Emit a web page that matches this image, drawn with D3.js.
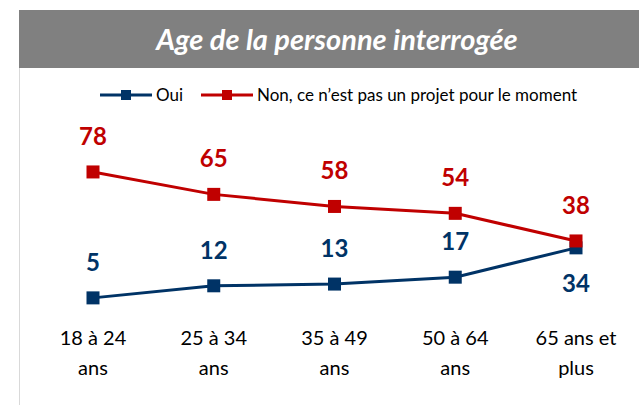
<!DOCTYPE html>
<html>
<head>
<meta charset="utf-8">
<script src="https://cdn.jsdelivr.net/npm/d3@7"></script>
<style>
  body { margin: 0; background: #fff; }
  svg { display: block; font-family: Lato, "Open Sans", sans-serif; }
</style>
</head>
<body>
<svg id="chart"></svg>
<script>
const categories = [['18 à 24', 'ans'], ['25 à 34', 'ans'], ['35 à 49', 'ans'], ['50 à 64', 'ans'], ['65 ans et', 'plus']];
const oui = [5, 12, 13, 17, 34];
const non = [78, 65, 58, 54, 38];
const seriesNames = ['Oui', 'Non, ce n’est pas un projet pour le moment'];
const colors = ['#003366', '#C00000'];

const width = 639, height = 405;
const svg = d3.select('#chart').attr('width', width).attr('height', height);

// header band
svg.append('rect').attr('x', 19).attr('y', 10).attr('width', width - 19).attr('height', 58).attr('fill', '#808080');
svg.append('text')
  .attr('x', 337).attr('y', 50)
  .attr('text-anchor', 'middle')
  .attr('fill', '#fff')
  .style('font-size', '29px').style('font-weight', 'bold').style('font-style', 'italic')
  .text('Age de la personne interrogée');

// left border
svg.append('line').attr('x1', 19.5).attr('x2', 19.5).attr('y1', 68).attr('y2', height).attr('stroke', '#d9d9d9');

const x = d3.scalePoint().domain(d3.range(categories.length)).range([93, 576]);
const y = d3.scaleLinear().domain([0, 100]).range([306.5, 134]);

const line = d3.line().x((d, i) => x(i)).y(d => y(d));

// legend
const legend = [{ name: seriesNames[0], color: colors[0], x0: 100, tx: 156 }, { name: seriesNames[1], color: colors[1], x0: 201, tx: 257 }];
legend.forEach(l => {
  const g = svg.append('g');
  g.append('line').attr('x1', l.x0).attr('x2', l.x0 + 52).attr('y1', 95).attr('y2', 95).attr('stroke', l.color).attr('stroke-width', 3);
  g.append('rect').attr('x', l.x0 + 21).attr('y', 90).attr('width', 10).attr('height', 10).attr('fill', l.color);
  g.append('text').attr('x', l.tx).attr('y', 101).attr('fill', '#000').style('font-size', '17px').text(l.name);
});

const series = [
  { values: oui, color: colors[0], labelPos: (d, i) => i === 4 ? 'below' : 'above' },
  { values: non, color: colors[1], labelPos: () => 'above' }
];

series.forEach(s => {
  svg.append('path').datum(s.values).attr('d', line)
    .attr('fill', 'none').attr('stroke', s.color).attr('stroke-width', 3);
  svg.selectAll(null).data(s.values).enter().append('rect')
    .attr('x', (d, i) => x(i) - 6.5).attr('y', d => y(d) - 6.5)
    .attr('width', 13).attr('height', 13).attr('fill', s.color);
  svg.selectAll(null).data(s.values).enter().append('text')
    .attr('x', (d, i) => x(i))
    .attr('y', (d, i) => s.labelPos(d, i) === 'above' ? y(d) - 27 : y(d) + 44)
    .attr('text-anchor', 'middle')
    .attr('fill', s.color)
    .style('font-size', '24px').style('font-weight', 'bold')
    .text(d => d);
});

// category labels
categories.forEach((c, i) => {
  const t = svg.append('text').attr('text-anchor', 'middle').attr('fill', '#000').style('font-size', '20px');
  c.forEach((ln, j) => {
    t.append('tspan').attr('x', x(i)).attr('y', 345 + j * 30).text(ln);
  });
});
</script>
</body>
</html>
